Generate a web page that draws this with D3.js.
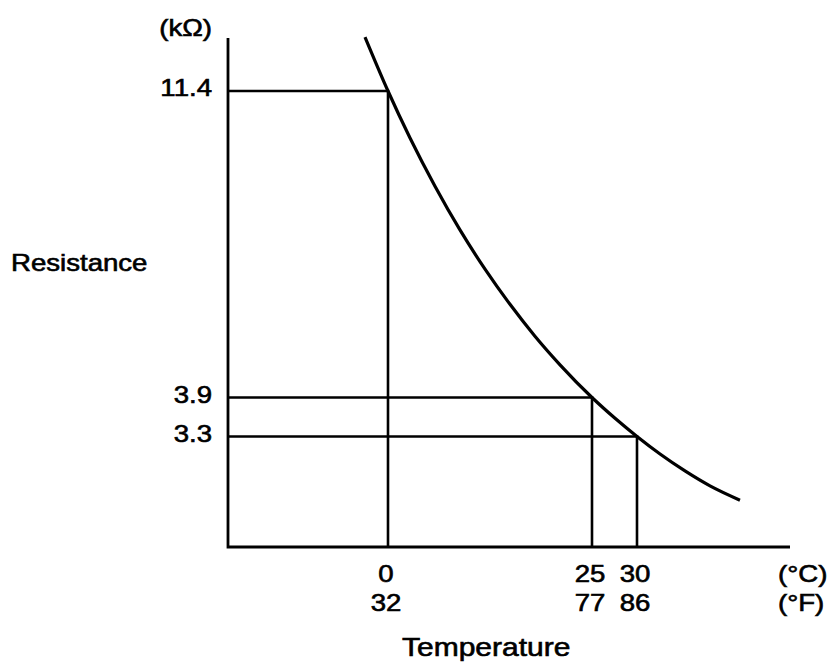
<!DOCTYPE html>
<html><head><meta charset="utf-8">
<script src="https://cdn.jsdelivr.net/npm/d3@7"></script>
<style>body{margin:0;background:#fff}svg{display:block}</style>
</head><body><svg id="c" width="832" height="672"></svg>
<script>
// Curve: temperature (°C) vs resistance (kΩ)
const tempC = [-2.82, 0, 2.70, 5.76, 8.82, 11.89, 14.95, 18.01, 21.08, 25, 27.56, 30, 32.56, 35.33, 38.11, 41.44];
const resistance = [12.72, 11.4, 10.25, 9.07, 8.00, 7.04, 6.18, 5.40, 4.70, 3.9, 3.58, 3.3, 3.03, 2.77, 2.54, 2.32];
// Marked reference points
const markC = [0, 25, 30];
const markF = [32, 77, 86];
const markR = [11.4, 3.9, 3.3];
const yUnit = "(kΩ)", yTitle = "Resistance", xTitle = "Temperature", unitC = "(°C)", unitF = "(°F)";

const svg = d3.select("#c");
const font = "'Liberation Sans', Arial, Helvetica, sans-serif";
const x = d3.scaleLinear().domain(markC).range([388, 592, 637]);
const y = d3.scaleLinear().domain(markR.slice().reverse()).range([436.5, 397.5, 91]);
const X0 = 228, XEND = 790, Y0 = 547, YTOP = 38;

// Guide lines
markC.forEach((c, i) => {
  const r = markR[i];
  svg.append("path")
    .attr("d", d3.line()([[X0, y(r)], [x(c), y(r)], [x(c), Y0]]))
    .attr("fill", "none").attr("stroke", "#000").attr("stroke-width", 2.6);
});

// Axes lines
svg.append("path").attr("d", d3.line()([[X0, YTOP], [X0, Y0], [XEND, Y0]]))
  .attr("fill", "none").attr("stroke", "#000").attr("stroke-width", 2.8);

// Curve
const pts = tempC.map((t, i) => [x(t), y(resistance[i])]);
svg.append("path").attr("d", d3.line().curve(d3.curveMonotoneX)(pts))
  .attr("fill", "none").attr("stroke", "#000").attr("stroke-width", 3.2);

function txt(s, tx, ty, anchor, size) {
  svg.append("text").text(s)
    .attr("transform", `translate(${tx},${ty}) scale(1.2,1)`)
    .attr("text-anchor", anchor)
    .attr("font-family", font).attr("font-size", size || 23)
    .attr("fill", "#000").attr("stroke", "#000").attr("stroke-width", 0.6);
}

// Y tick labels
markR.forEach(r => txt(d3.format(".1f")(r), 212, y(r) + 5, "end"));
txt(yUnit, 212, 36, "end");
txt(yTitle, 11, 271, "start");

// X tick labels
markC.forEach((c, i) => {
  txt(String(c), x(c) - 2, 582, "middle");
  txt(String(markF[i]), x(c) - 2, 611, "middle");
});
txt(unitC, 778, 582, "start");
txt(unitF, 778, 611, "start");
txt(xTitle, 402, 656, "start", 25);
</script></body></html>
